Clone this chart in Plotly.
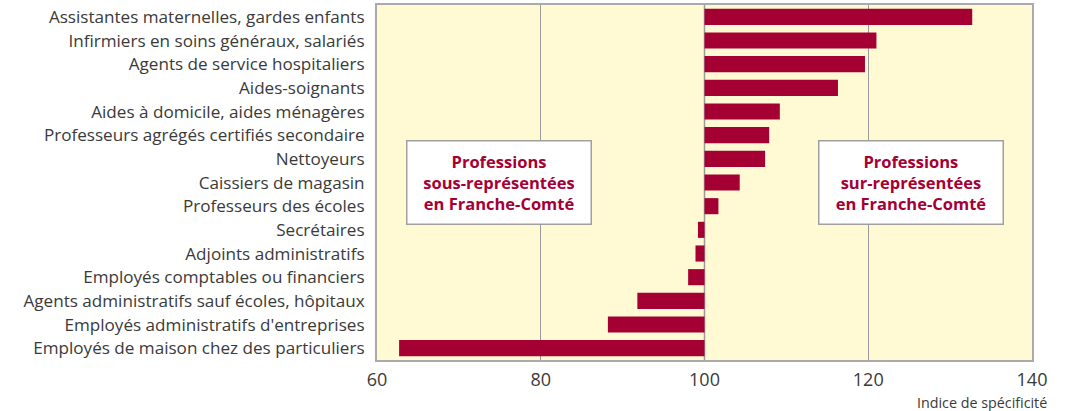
import plotly.graph_objects as go

categories = [
    "Assistantes maternelles, gardes enfants",
    "Infirmiers en soins généraux, salariés",
    "Agents de service hospitaliers",
    "Aides-soignants",
    "Aides à domicile, aides ménagères",
    "Professeurs agrégés certifiés secondaire",
    "Nettoyeurs",
    "Caissiers de magasin",
    "Professeurs des écoles",
    "Secrétaires",
    "Adjoints administratifs",
    "Employés comptables ou financiers",
    "Agents administratifs sauf écoles, hôpitaux",
    "Employés administratifs d'entreprises",
    "Employés de maison chez des particuliers",
]
values = [132.7, 121.0, 119.6, 116.3, 109.2, 107.9, 107.4, 104.3, 101.7,
          99.2, 98.9, 98.0, 91.8, 88.2, 62.7]
reference = 100
tick_vals = [60, 80, 100, 120, 140]

BAR = "#A50034"
FONT = "Open Sans"
TXT = "#3A3A3A"

fig = go.Figure()
fig.add_trace(go.Bar(
    y=categories,
    x=[v - reference for v in values],
    base=reference,
    orientation="h",
    marker=dict(color=BAR, line=dict(width=0)),
    hovertemplate="%{y}: %{customdata}<extra></extra>",
    customdata=values,
))

fig.update_layout(
    width=1069, height=411,
    margin=dict(l=377, r=37, t=5, b=51, autoexpand=False),
    paper_bgcolor="white",
    plot_bgcolor="#FFF9D4",
    bargap=0.32,
    showlegend=False,
    font=dict(family=FONT, color=TXT),
    xaxis=dict(
        range=[60, 140], tickvals=tick_vals, ticktext=[str(t) for t in tick_vals],
        showgrid=True, gridcolor="#9A9A9A", gridwidth=1.2,
        zeroline=False, showline=True, linecolor="#AAAAAA", linewidth=2, mirror=True,
        ticks="", tickfont=dict(size=18, color=TXT, family=FONT),
        ticklabelstandoff=2,
    ),
    yaxis=dict(
        type="category", autorange="reversed",
        showgrid=False, zeroline=False, showline=True, linecolor="#AAAAAA",
        linewidth=2, mirror=True, ticks="",
        tickfont=dict(size=17.1, color=TXT, family=FONT),
        ticklabelstandoff=7,
    ),
)

fig.add_vline(x=reference, line=dict(color="#9A9A9A", width=1.5), layer="below")

box_text_l = "<b>Professions<br>sous-représentées<br>en Franche-Comté</b>"
box_text_r = "<b>Professions<br>sur-représentées<br>en Franche-Comté</b>"
for xc, txt in [(74.9, box_text_l), (125.2, box_text_r)]:
    fig.add_annotation(
        x=xc, xref="x", y=0.499, yref="paper", text=txt, showarrow=False,
        font=dict(size=16.5, color=BAR, family=FONT),
        align="center", bgcolor="white", bordercolor="#A0A0A0", borderwidth=1.5,
        width=181, height=80, borderpad=1,
    )

fig.add_annotation(
    x=1, xref="paper", y=-0.121, yref="paper", text="Indice de spécificité",
    showarrow=False, xanchor="right", yanchor="middle", xshift=17,
    font=dict(size=14.3, color=TXT, family=FONT),
)

fig.write_html(
    "out.html",
    config={"displayModeBar": False},
    post_script="document.body.style.margin='0';document.body.style.padding='0';",
)
